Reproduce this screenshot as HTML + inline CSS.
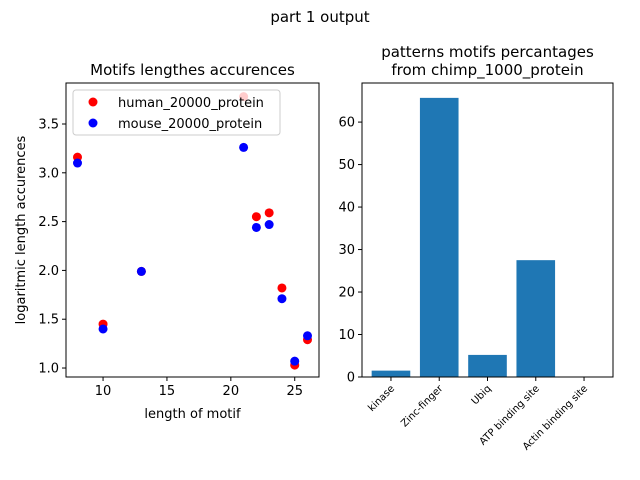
<!DOCTYPE html>
<html><head><meta charset="utf-8"><style>
body{margin:0;background:#fff}
svg{display:block;font-family:"DejaVu Sans","Liberation Sans",sans-serif}
</style></head><body>
<svg id="fig" width="640" height="480" xmlns="http://www.w3.org/2000/svg">
<rect width="640" height="480" fill="#fff"/>
<text x="320" y="22" font-size="15" text-anchor="middle">part 1 output</text>
<g id="left"></g>
<g id="right"></g>
</svg>
<script>
const scatterX = [8,10,13,21,22,23,24,25,26];
const humanY = [3.16,1.45,1.99,3.78,2.55,2.59,1.82,1.03,1.29];
const mouseY = [3.10,1.40,1.99,3.26,2.44,2.47,1.71,1.07,1.33];
const scatterXTicks = [10,15,20,25];
const scatterYTicks = [1.0,1.5,2.0,2.5,3.0,3.5];
const barCategories = ["kinase","Zinc-finger","Ubiq","ATP binding site","Actin binding site"];
const barValues = [1.5,65.7,5.2,27.5,0];
const barYTicks = [0,10,20,30,40,50,60];

const NS="http://www.w3.org/2000/svg";
function mk(p,t,a,txt){const e=document.createElementNS(NS,t);for(const k in a)e.setAttribute(k,a[k]);if(txt!==undefined)e.textContent=txt;p.appendChild(e);return e;}

const L=document.getElementById('left');
const lx0=66,lx1=319,ly0=377,ly1=83,xmin=7.1,xmax=26.9,ymin=0.908,ymax=3.92;
const sx=v=>lx0+(v-xmin)/(xmax-xmin)*(lx1-lx0);
const sy=v=>ly0-(v-ymin)/(ymax-ymin)*(ly0-ly1);
scatterX.forEach((x,i)=>{const c=mk(L,'circle',{cx:sx(x),cy:sy(humanY[i]),r:4.5,fill:'#ff0000'});

});
scatterX.forEach((x,i)=>{const c=mk(L,'circle',{cx:sx(x),cy:sy(mouseY[i]),r:4.5,fill:'#0000ff'});

});
mk(L,'rect',{x:lx0,y:ly1,width:lx1-lx0,height:ly0-ly1,fill:'none',stroke:'#000','stroke-width':1});
scatterXTicks.forEach(t=>{const x=sx(t);mk(L,'line',{x1:x,x2:x,y1:ly0,y2:ly0+4,stroke:'#000'});
const tx=mk(L,'text',{x:x,y:ly0+18,'font-size':13,'text-anchor':'middle'},String(t));

});
scatterYTicks.forEach(t=>{const y=sy(t);mk(L,'line',{x1:lx0-4,x2:lx0,y1:y,y2:y,stroke:'#000'});
const tx=mk(L,'text',{x:lx0-7,y:y+4.5,'font-size':13,'text-anchor':'end'},t.toFixed(1));

});
let e=mk(L,'text',{x:(lx0+lx1)/2,y:418,'font-size':13,'text-anchor':'middle'},'length of motif');

e=mk(L,'text',{x:0,y:0,'font-size':13,'text-anchor':'middle',transform:`translate(25,${(ly0+ly1)/2}) rotate(-90)`},'logaritmic length accurences');

e=mk(L,'text',{x:(lx0+lx1)/2,y:75,'font-size':15,'text-anchor':'middle'},'Motifs lengthes accurences');

const lg=mk(L,'g',{});


mk(lg,'rect',{x:73,y:90,width:207,height:45,rx:3,fill:'rgba(255,255,255,0.8)',stroke:'#ccc'});
mk(lg,'circle',{cx:93,cy:102,r:4.5,fill:'#ff0000'});
mk(lg,'text',{x:118,y:107,'font-size':13},'human_20000_protein');
mk(lg,'circle',{cx:93,cy:123,r:4.5,fill:'#0000ff'});
mk(lg,'text',{x:118,y:128,'font-size':13},'mouse_20000_protein');

const R=document.getElementById('right');
const rx0=362,rx1=613,ry0=377,ry1=83,bymax=69.2;
const bx=i=>rx0+(i+0.6)/5.2*(rx1-rx0);
const bw=0.8/5.2*(rx1-rx0);
const by=v=>ry0-v/bymax*(ry0-ry1);
barCategories.forEach((c,i)=>{const r=mk(R,'rect',{x:bx(i)-bw/2,y:by(barValues[i]),width:bw,height:ry0-by(barValues[i]),fill:'#1f77b4'});


const x=bx(i);mk(R,'line',{x1:x,x2:x,y1:ry0,y2:ry0+4,stroke:'#000'});
const t=mk(R,'text',{x:0,y:0,'font-size':10,'text-anchor':'end',transform:`translate(${x+4},${ry0+12}) rotate(-45)`},c);

});
mk(R,'rect',{x:rx0,y:ry1,width:rx1-rx0,height:ry0-ry1,fill:'none',stroke:'#000'});
barYTicks.forEach(t=>{const y=by(t);mk(R,'line',{x1:rx0-4,x2:rx0,y1:y,y2:y,stroke:'#000'});
const tx=mk(R,'text',{x:rx0-7,y:y+4.5,'font-size':13,'text-anchor':'end'},String(t));

});
e=mk(R,'text',{x:(rx0+rx1)/2,y:57,'font-size':15,'text-anchor':'middle'},'patterns motifs percantages');

e=mk(R,'text',{x:(rx0+rx1)/2,y:75,'font-size':15,'text-anchor':'middle'},'from chimp_1000_protein');

</script>
</body></html>
